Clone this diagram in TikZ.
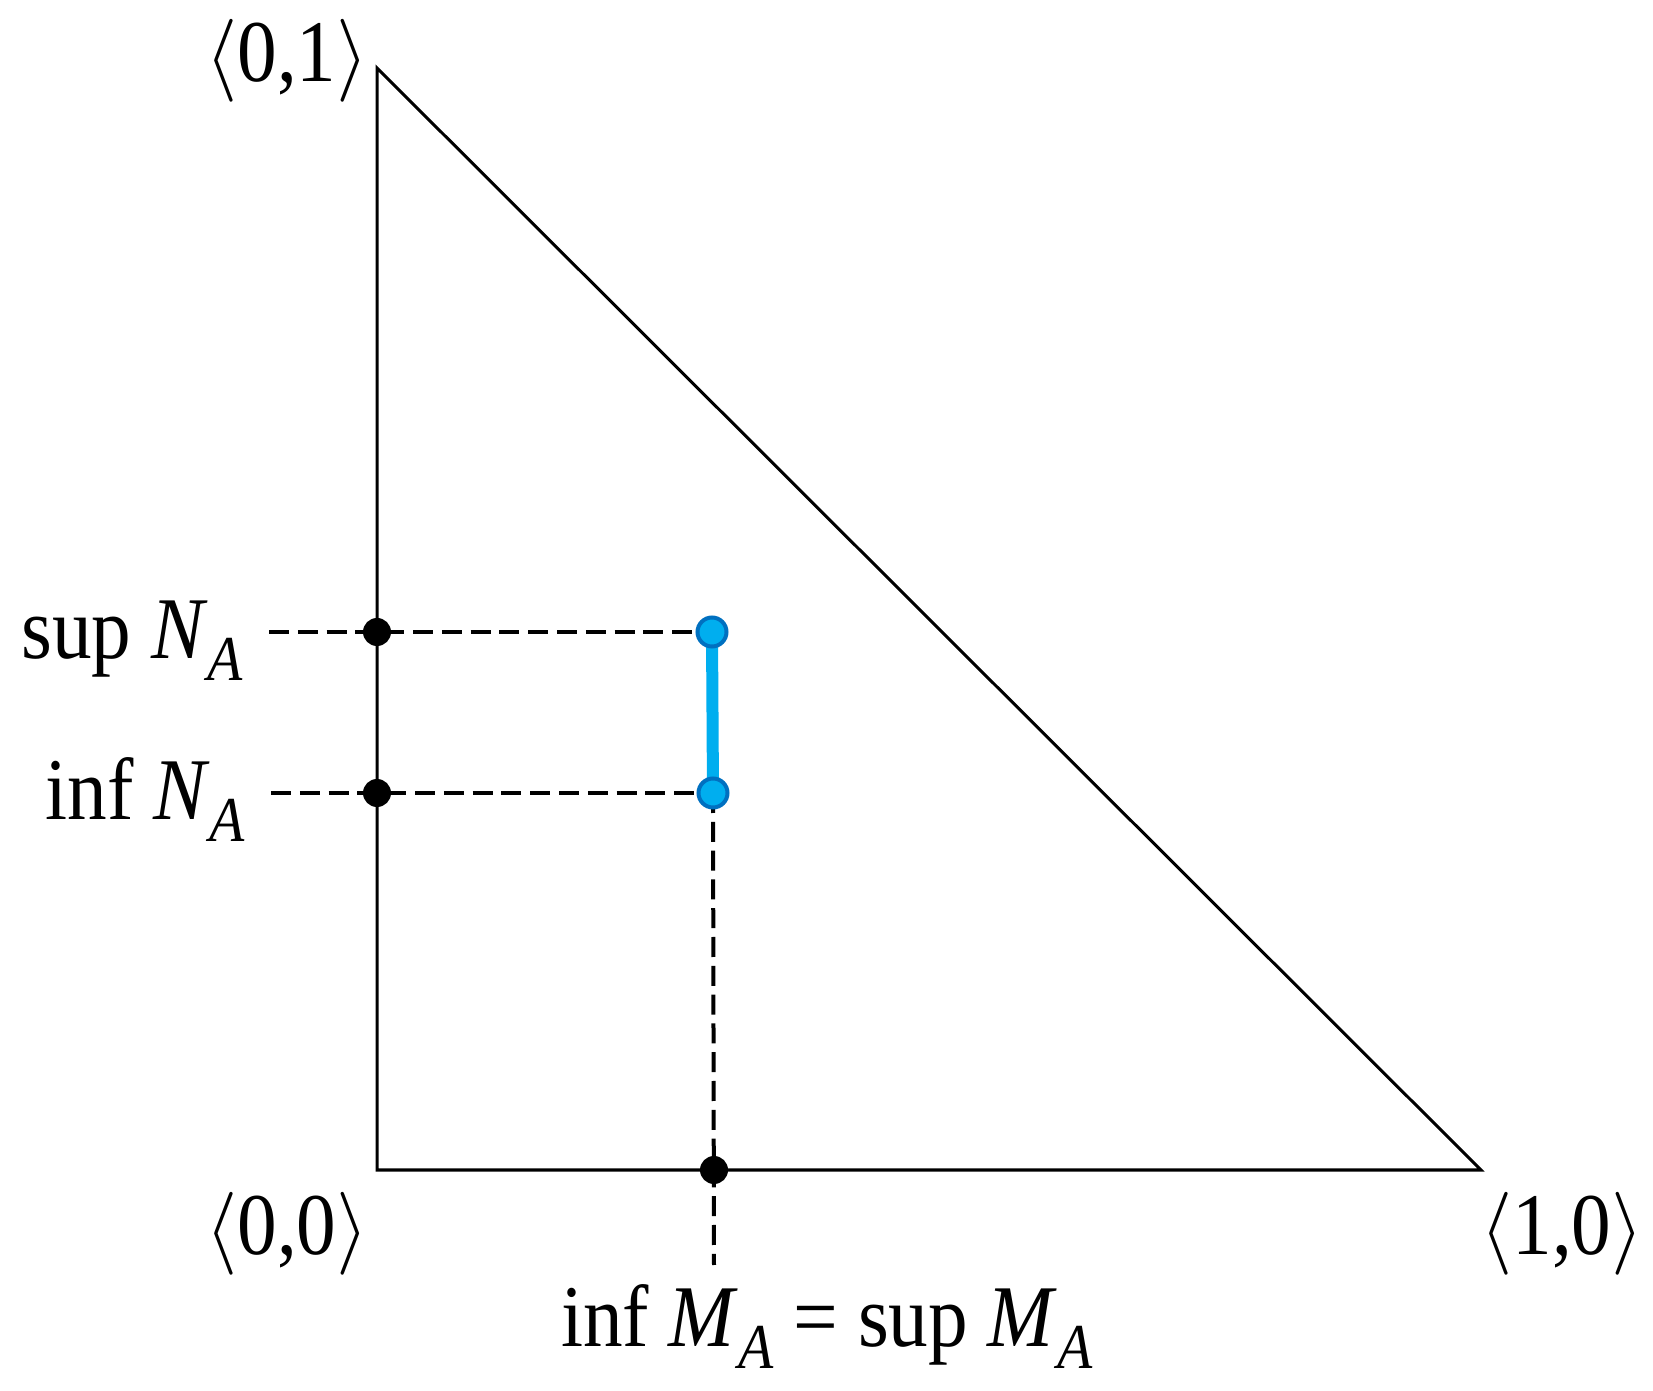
\documentclass[tikz,border=0pt]{standalone}
\usepackage{fontspec}
\setmainfont{Liberation Serif}[FakeStretch=0.9]
\definecolor{dotblue}{RGB}{0,174,239}
\definecolor{rimblue}{RGB}{0,112,192}
\newcommand{\lowsub}[1]{\raisebox{-0.25em}{\fontsize{16}{16}\selectfont\textit{#1}}}
\tikzset{
    edge/.style={line width=0.75pt, line join=miter},
    guide/.style={line width=1pt, dash pattern=on 5pt off 2.2pt},
    blackdot/.style={circle, fill=black, inner sep=0pt, minimum size=7pt},
    bluedot/.style={circle, fill=dotblue, draw=rimblue, line width=1pt, inner sep=0pt, minimum size=7.25pt},
    lab/.style={font=\fontsize{22}{26}\selectfont, inner sep=0pt},
}
\begin{document}
\begin{tikzpicture}[x=0.25pt, y=-0.25pt]
    \useasboundingbox (0,0) rectangle (1653,1391);
    % triangle
    \coordinate (O) at (377,1170);
    \coordinate (T) at (377,68);
    \coordinate (R) at (1481,1170);
    \draw [edge] (O) -- (T) -- (R) -- cycle;

    % guide lines
    \coordinate (supL) at (269,632);
    \coordinate (infL) at (271,793);
    \coordinate (supB) at (712,632);
    \coordinate (infB) at (713,793);
    \coordinate (mB) at (714,1170);
    \coordinate (mL) at (714,1265);
    \draw [guide] (supL) -- (supB);
    \draw [guide] (infL) -- (infB);
    \draw [guide] (infB) -- (mL);
    \draw [line width=3pt, dotblue] (supB) -- (infB);

    % points
    \foreach \p in {supL,infL} {
        \node [blackdot] (\p dot) at (O |- \p) {};
    }
    \node [blackdot] (mdot) at (mB) {};
    \node [bluedot] (supblue) at (supB) {};
    \node [bluedot] (infblue) at (infB) {};

    % labels
    \node [lab, anchor=base] (c01) at (287,82) {$\langle$0,1$\rangle$};
    \node [lab, anchor=base] (c00) at (287,1254) {$\langle$0,0$\rangle$};
    \node [lab, anchor=base] (c10) at (1562,1254) {$\langle$1,0$\rangle$};
    \node [lab, anchor=base east] (supN) at (244,659) {sup \textit{N}\lowsub{A}};
    \node [lab, anchor=base east] (infN) at (246,820) {inf \textit{N}\lowsub{A}};
    \node [lab, anchor=base] (M) at (827,1347) {inf \textit{M}\lowsub{A} = sup \textit{M}\lowsub{A}};
\end{tikzpicture}
\end{document}
